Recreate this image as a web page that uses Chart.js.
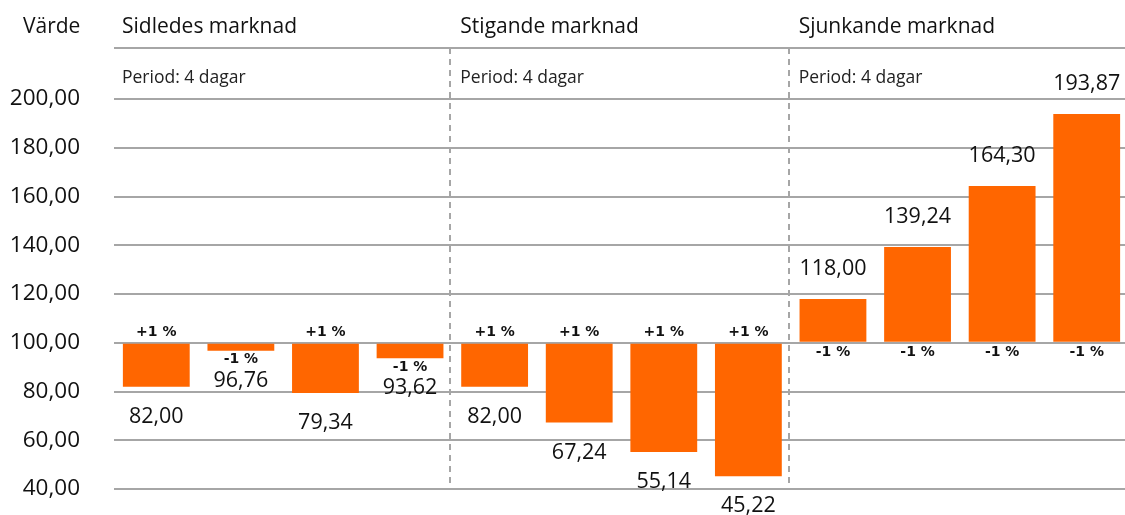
<!DOCTYPE html>
<html>
<head>
<meta charset="utf-8">
<script src="https://cdn.jsdelivr.net/npm/chart.js@4"></script>
<style>
  body { margin: 0; background: #fff; overflow: hidden; }
  #wrap { width: 1125px; height: 515px; overflow: hidden; }
</style>
</head>
<body>
<div id="wrap"><canvas id="grafico" width="1129" height="515"></canvas></div>
<script>
// data
const grupos = ['Sidledes marknad', 'Stigande marknad', 'Sjunkande marknad'];
const periodTexto = 'Period: 4 dagar';
const etiquetas = ['1', '2', '3', '4', '1', '2', '3', '4', '1', '2', '3', '4'];
const valores = [82.00, 96.76, 79.34, 93.62, 82.00, 67.24, 55.14, 45.22, 118.00, 139.24, 164.30, 193.87];
const cambios = [1, -1, 1, -1, 1, 1, 1, 1, -1, -1, -1, -1];
const basValor = 100;
const tituloEje = 'Värde';

const naranja = '#FF6600';
const gris = '#a6a6a6';
const fuente = '"Open Sans", "DejaVu Sans", sans-serif';

function fmt(v) {
    return v.toFixed(2).replace('.', ',');
}

const decoracion = {
    id: 'decoracion',
    beforeDatasetsDraw(chart) {
        const ctx = chart.ctx;
        const area = chart.chartArea;
        const x = chart.scales.x;
        const topLinea = 48;
        ctx.save();
        // linea superior
        ctx.strokeStyle = gris;
        ctx.lineWidth = 2;
        ctx.beginPath();
        ctx.moveTo(area.left, topLinea);
        ctx.lineTo(chart.width, topLinea);
        ctx.stroke();
        // separadores
        ctx.setLineDash([6, 5]);
        ctx.lineWidth = 2;
        for (let g = 1; g < grupos.length; g++) {
            const i = g * 4;
            const sx = Math.round((x.getPixelForValue(i - 1) + x.getPixelForValue(i)) / 2) - 2;
            ctx.beginPath();
            ctx.moveTo(sx, topLinea);
            ctx.lineTo(sx, area.bottom);
            ctx.stroke();
        }
        ctx.setLineDash([]);
        // textos
        ctx.fillStyle = '#111';
        ctx.textBaseline = 'alphabetic';
        ctx.textAlign = 'left';
        ctx.font = '21px ' + fuente;
        ctx.fillText(tituloEje, 23, 33);
        grupos.forEach((g, k) => {
            const left = k === 0 ? area.left : (x.getPixelForValue(k * 4 - 1) + x.getPixelForValue(k * 4)) / 2;
            ctx.font = '21px ' + fuente;
            ctx.fillStyle = '#111';
            ctx.fillText(g, left + 8, 33);
            ctx.font = '17.5px ' + fuente;
            ctx.fillStyle = '#222';
            ctx.fillText(periodTexto, left + 8, 83);
        });
        ctx.restore();
    },
    afterDatasetsDraw(chart) {
        const ctx = chart.ctx;
        const meta = chart.getDatasetMeta(0);
        ctx.save();
        ctx.textAlign = 'center';
        ctx.textBaseline = 'middle';
        meta.data.forEach((el, i) => {
            const v = valores[i];
            const arriba = v > basValor;
            // valor
            ctx.font = '21.5px ' + fuente;
            ctx.fillStyle = '#111';
            const yv = arriba ? el.y - 30 : el.y + 30;
            ctx.fillText(fmt(v), el.x, yv);
            // porcentaje
            ctx.font = 'bold 14px "DejaVu Sans", sans-serif';
            const txt = (cambios[i] > 0 ? '+' : '-') + Math.abs(cambios[i]) + ' %';
            let yp;
            if (cambios[i] > 0) {
                yp = el.base - 11;
            } else if (arriba) {
                yp = el.base + 11;
            } else {
                yp = el.y + 9;
            }
            ctx.fillText(txt, el.x, yp);
        });
        ctx.restore();
    }
};

new Chart(document.getElementById('grafico').getContext('2d'), {
    type: 'bar',
    data: {
        labels: etiquetas,
        datasets: [{
            label: tituloEje,
            data: valores,
            base: basValor,
            backgroundColor: naranja,
            borderWidth: 0,
            barPercentage: 0.79,
            categoryPercentage: 1
        }]
    },
    options: {
        responsive: false,
        animation: false,
        layout: {
            autoPadding: false,
            padding: { top: 99, bottom: 26, right: 0, left: 0 }
        },
        plugins: {
            legend: { display: false },
            tooltip: { enabled: false }
        },
        scales: {
            x: {
                display: false
            },
            y: {
                min: 40,
                max: 200,
                border: { display: false },
                grid: {
                    color: gris,
                    lineWidth: 2,
                    drawTicks: true,
                    tickLength: 34,
                    tickColor: 'rgba(0,0,0,0)'
                },
                ticks: {
                    stepSize: 20,
                    padding: 0,
                    color: '#111',
                    font: { size: 22.5, family: fuente },
                    callback: v => fmt(v)
                },
                afterFit(scale) {
                    scale.width = 114;
                }
            }
        }
    },
    plugins: [decoracion]
});
</script>
</body>
</html>
